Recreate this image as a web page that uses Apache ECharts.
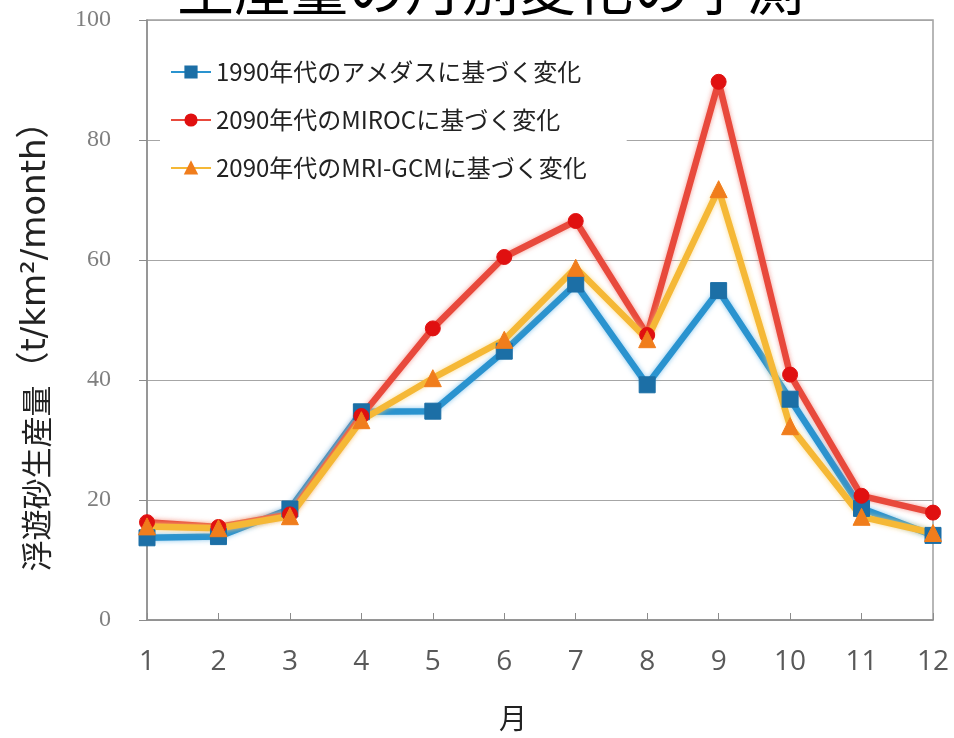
<!DOCTYPE html>
<html><head><meta charset="utf-8">
<script src="https://cdn.jsdelivr.net/npm/echarts@6/dist/echarts.min.js"></script>
<style>html,body{margin:0;padding:0;background:#fff}#c{width:954px;height:738px}</style>
</head><body><div id="c"></div>
<script>
const months = ['1','2','3','4','5','6','7','8','9','10','11','12'];
const seriesNames = ['1990年代のアメダスに基づく変化','2090年代のMIROCに基づく変化','2090年代のMRI-GCMに基づく変化'];
const amedas1990 = [13.7, 13.9, 18.5, 34.7, 34.8, 44.8, 56.0, 39.2, 54.9, 36.8, 18.6, 14.1];
const miroc2090 = [16.3, 15.5, 17.6, 34.0, 48.6, 60.5, 66.5, 47.5, 89.7, 40.9, 20.7, 17.9];
const mri2090 = [15.6, 15.3, 17.3, 33.3, 40.3, 46.7, 58.7, 46.8, 71.8, 32.3, 17.2, 14.5];
const yTicks = {min: 0, max: 100, interval: 20};

const chart = echarts.init(document.getElementById('c'));
const jp = '"Noto Sans CJK JP", "Noto Sans", sans-serif';
function mk(name, data, lineColor, markColor, symbol, size, glow) {
  return {
    name, type: 'line', data, symbol, symbolSize: size,
    lineStyle: {color: lineColor, width: 6.5, shadowColor: glow, shadowBlur: 5},
    itemStyle: {color: markColor, borderColor: markColor, borderWidth: 1},
    emphasis: {disabled: true}, animation: false
  };
}
chart.setOption({
  animation: false,
  title: {text: '生産量の月別変化の予測', left: 172, top: -45,
    textStyle: {fontFamily: jp, fontSize: 57, fontWeight: 'normal', color: '#000'}},
  grid: {left: 147, right: 21, top: 20, bottom: 118, show: true, borderColor: '#a0a0a0', borderWidth: 1.5},
  legend: {
    orient: 'vertical', left: 160, top: 50, itemGap: 24, itemWidth: 40, itemHeight: 14,
    backgroundColor: '#fff', padding: [10, 40, 14, 10],
    textStyle: {fontFamily: jp, fontSize: 24, color: '#222'},
    data: seriesNames
  },
  xAxis: {
    type: 'category', data: months, boundaryGap: false,
    axisLine: {lineStyle: {color: '#8c8c8c', width: 1.5}},
    axisTick: {inside: true, length: 7, lineStyle: {color: '#8c8c8c'}},
    axisLabel: {fontFamily: '"Open Sans", sans-serif', fontSize: 28, color: '#595959', margin: 28}
  },
  yAxis: {
    type: 'value', min: yTicks.min, max: yTicks.max, interval: yTicks.interval,
    axisLine: {show: true, lineStyle: {color: '#8c8c8c', width: 1.5}},
    axisTick: {show: true, length: 8, lineStyle: {color: '#8c8c8c'}},
    splitLine: {lineStyle: {color: '#a6a6a6', width: 1}},
    axisLabel: {fontFamily: '"Liberation Serif", "DejaVu Serif", serif', fontSize: 24, color: '#7f7f7f', margin: 36}
  },
  graphic: [
    {type: 'text', x: 36, y: 338, rotation: Math.PI / 2, z: 10,
      style: {
        text: '{a|浮遊砂生産量}{b|（t/km²/month）}',
        textAlign: 'center', textVerticalAlign: 'middle', fill: '#222',
        rich: {
          a: {fontFamily: 'Noto Sans CJK JP', fontSize: 31, fill: '#222'},
          b: {fontFamily: '"DejaVu Sans", "Noto Sans CJK JP"', fontSize: 34, fill: '#222'}
        }
      }},
    {type: 'text', x: 513, y: 718, style: {text: '月', font: '28px "Noto Sans CJK JP"', fill: '#222', textAlign: 'center', textVerticalAlign: 'middle'}}
  ],
  series: [
    mk(seriesNames[0], amedas1990, '#2a93cf', '#1c6fa6', 'rect', 16, 'rgba(100,180,230,0.8)'),
    mk(seriesNames[1], miroc2090, '#e8493c', '#e01010', 'circle', 15, 'rgba(240,130,120,0.8)'),
    mk(seriesNames[2], mri2090, '#f5b836', '#f07d1c', 'triangle', 17, 'rgba(250,210,120,0.8)')
  ]
});
</script></body></html>
